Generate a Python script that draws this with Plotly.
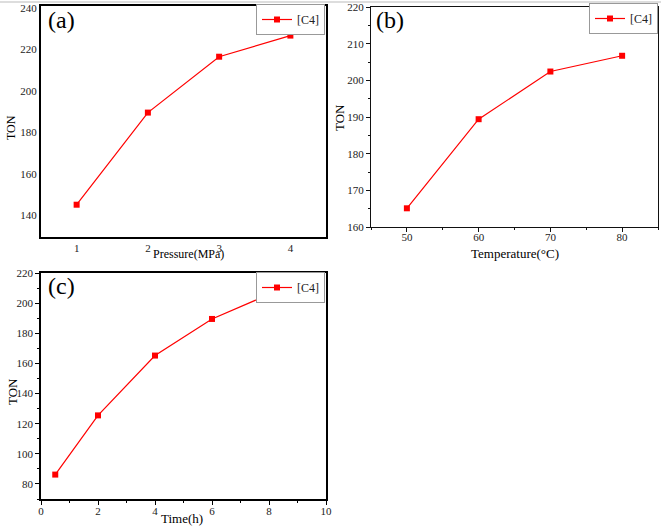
import plotly.graph_objects as go

# Data
pressure = [1, 2, 3, 4]
ton_pressure = [145.0, 189.5, 216.5, 226.7]
temperature = [50, 60, 70, 80]
ton_temperature = [165.1, 189.4, 202.4, 206.7]
time_h = [0.5, 2, 4, 6, 8]
ton_time = [86.2, 125.5, 165.2, 189.5, 205.8]

W, H = 661, 527
FONT = "Liberation Serif"
RED = "#ff0000"

def px_x(p):
    return p / W

def px_y(p):
    return 1 - p / H

fig = go.Figure()

common = dict(mode="lines+markers", name="[C4]",
              line=dict(color=RED, width=1.2),
              marker=dict(symbol="square", size=6, color=RED))

fig.add_trace(go.Scatter(x=pressure, y=ton_pressure, xaxis="x", yaxis="y", legend="legend", **common))
fig.add_trace(go.Scatter(x=temperature, y=ton_temperature, xaxis="x2", yaxis="y2", legend="legend2", **common))
fig.add_trace(go.Scatter(x=time_h, y=ton_time, xaxis="x3", yaxis="y3", legend="legend3", **common))

tickfont = dict(family=FONT, size=11, color="#222")

fig.update_layout(
    xaxis=dict(domain=[px_x(41), px_x(326)], range=[0.5, 4.5], tickvals=pressure,
               showline=True, mirror=True, linewidth=2, linecolor="black",
               showgrid=False, zeroline=False, ticks="", tickfont=tickfont, anchor="y",
               automargin=False),
    yaxis=dict(domain=[px_y(237), px_y(6)], range=[129.4, 241], tickvals=[140, 160, 180, 200, 220, 240],
               showline=True, mirror=True, linewidth=2, linecolor="black",
               showgrid=False, zeroline=False, ticks="", tickfont=tickfont, anchor="x",
               automargin=False),
    xaxis2=dict(domain=[px_x(371), px_x(658)], range=[45, 85], tickvals=temperature,
                showline=True, mirror=True, linewidth=1.3, linecolor="#111",
                showgrid=False, zeroline=False, ticks="outside", ticklen=4, tickcolor="#111",
                minor=dict(ticks="outside", ticklen=2, dtick=5, tick0=45, tickcolor="#111"),
                tickfont=tickfont, anchor="y2", automargin=False, ticklabelstandoff=-4),
    yaxis2=dict(domain=[px_y(227), px_y(7)], range=[160, 220], dtick=10,
                showline=True, mirror=True, linewidth=1.3, linecolor="#111",
                showgrid=False, zeroline=False, ticks="outside", ticklen=4, tickcolor="#111",
                minor=dict(ticks="outside", ticklen=2, dtick=5, tickcolor="#111"),
                tickfont=tickfont, anchor="x2", automargin=False),
    xaxis3=dict(domain=[px_x(41), px_x(326)], range=[0, 10], dtick=2,
                showline=True, mirror=True, linewidth=1.5, linecolor="black",
                showgrid=False, zeroline=False, ticks="outside", ticklen=4, tickcolor="black",
                minor=dict(ticks="outside", ticklen=2, dtick=1, tickcolor="black"),
                tickfont=tickfont, anchor="y3", automargin=False, ticklabelstandoff=-3),
    yaxis3=dict(domain=[px_y(499), px_y(273)], range=[70, 220], dtick=20, tick0=80,
                showline=True, mirror=True, linewidth=1.5, linecolor="black",
                showgrid=False, zeroline=False, ticks="outside", ticklen=4, tickcolor="black",
                minor=dict(ticks="outside", ticklen=2, dtick=10, tickcolor="black"),
                tickfont=tickfont, anchor="x3", automargin=False),
)

legfont = dict(family=FONT, size=12, color="#222")
leg_common = dict(xanchor="right", yanchor="top", bgcolor="white", bordercolor="#999",
                  borderwidth=1, font=legfont, itemwidth=30, tracegroupgap=0)
fig.update_layout(
    legend=dict(x=px_x(325), y=px_y(4), **leg_common),
    legend2=dict(x=px_x(658), y=px_y(3), **leg_common),
    legend3=dict(x=px_x(325), y=px_y(272), **leg_common),
)

anns = []
def ann(text, x, y, size, angle=0):
    anns.append(dict(text=text, x=px_x(x), y=px_y(y), xref="paper", yref="paper",
                     showarrow=False, textangle=angle, xanchor="center", yanchor="middle",
                     font=dict(family=FONT, size=size, color="black")))

ann("(a)", 61, 20, 24)
ann("(b)", 390, 20, 24)
ann("(c)", 61, 286, 24)
ann("Pressure(MPa)", 188, 254, 12)
ann("Temperature(°C)", 515, 253, 13)
ann("Time(h)", 182, 518, 13)
ann("TON", 11, 128, 12, -90)
ann("TON", 340, 118, 13, -90)
ann("TON", 12, 392, 13, -90)

fig.update_layout(
    annotations=anns,
    width=W, height=H, margin=dict(l=0, r=0, t=0, b=0, autoexpand=False),
    paper_bgcolor="white", plot_bgcolor="white", showlegend=True,
    font=dict(family=FONT),
    shapes=[dict(type="line", xref="paper", yref="paper", x0=0, x1=1, y0=px_y(2), y1=px_y(2),
                 line=dict(color="#bbb", width=1))],
)

fig.write_html("out.html", config={"displayModeBar": False},
               post_script="document.body.style.margin='0';document.body.style.overflow='hidden';")
